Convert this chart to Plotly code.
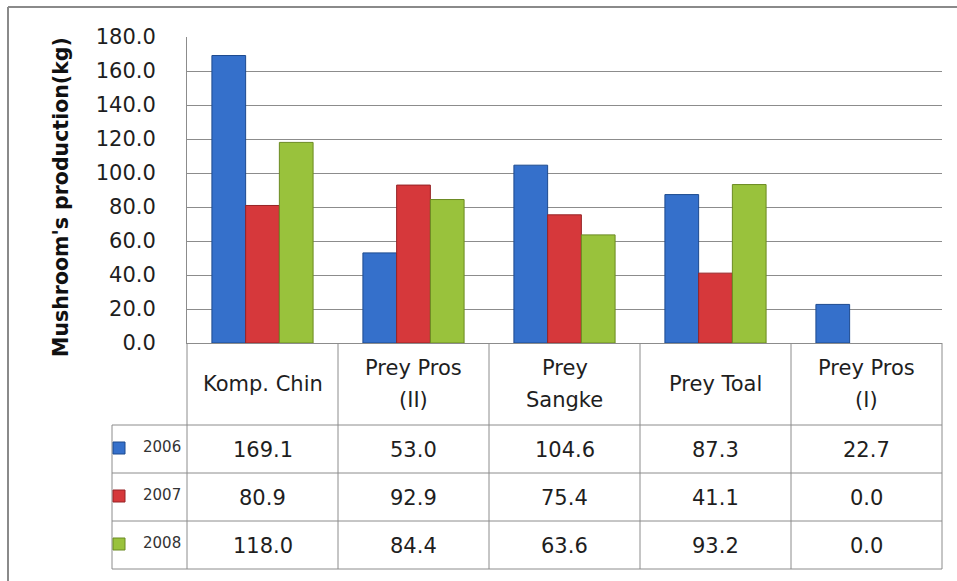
import plotly.graph_objects as go

# Mushroom production per village (kg), with the values repeated in a data table
categories = ["Komp. Chin", "Prey Pros (II)", "Prey Sangke", "Prey Toal", "Prey Pros (I)"]
header_lines = [["Komp. Chin"], ["Prey Pros", "(II)"], ["Prey", "Sangke"],
                ["Prey Toal"], ["Prey Pros", "(I)"]]
years = ["2006", "2007", "2008"]
prod_2006 = [169.1, 53.0, 104.6, 87.3, 22.7]
prod_2007 = [80.9, 92.9, 75.4, 41.1, 0.0]
prod_2008 = [118.0, 84.4, 63.6, 93.2, 0.0]
y_tick_values = [0, 20, 40, 60, 80, 100, 120, 140, 160, 180]

series = [prod_2006, prod_2007, prod_2008]
fill_colors = ["#3570cb", "#d6383b", "#99c23c"]
edge_colors = ["#1d4a8f", "#962326", "#6b8a22"]

W, H = 957, 581


def fx(px):
    return px / W


def fy(py):
    return 1 - py / H


# plot area in pixels
PL, PR, PT, PB = 187, 942, 37, 343
# data-table rows (header + three year rows) and legend column
ROWS = [343, 425, 473, 521, 569]
LEG_L = 112
LINE_GAP = 32  # spacing of two-line header labels

TXT_FONT = "DejaVu Sans, Verdana, sans-serif"
TXT_COLOR = "#1e1e1e"
GRID = "#8c8c8c"

fig = go.Figure()
for name, vals, fc, ec in zip(years, series, fill_colors, edge_colors):
    fig.add_trace(go.Bar(
        x=categories, y=vals, name=name,
        marker=dict(color=fc, line=dict(color=ec, width=[0 if v == 0 else 1 for v in vals])),
        showlegend=False,
    ))

shapes = []
annotations = []

# horizontal table rules
for yv in ROWS[1:]:
    shapes.append(dict(type="line", xref="paper", yref="paper",
                       x0=fx(LEG_L), x1=fx(PR), y0=fy(yv), y1=fy(yv),
                       line=dict(color=GRID, width=1)))
# vertical column rules (category columns)
n = len(categories)
for k in range(n + 1):
    xv = PL + k * (PR - PL) / n
    shapes.append(dict(type="line", xref="paper", yref="paper",
                       x0=fx(xv), x1=fx(xv), y0=fy(ROWS[0]), y1=fy(ROWS[-1]),
                       line=dict(color=GRID, width=1)))
# left edge of the legend column
shapes.append(dict(type="line", xref="paper", yref="paper",
                   x0=fx(LEG_L), x1=fx(LEG_L), y0=fy(ROWS[1]), y1=fy(ROWS[-1]),
                   line=dict(color=GRID, width=1)))

# chart frame (top and left edges)
shapes.append(dict(type="line", xref="paper", yref="paper",
                   x0=fx(8), x1=1, y0=fy(7), y1=fy(7),
                   line=dict(color="#8a8a8a", width=2)))
shapes.append(dict(type="line", xref="paper", yref="paper",
                   x0=fx(8), x1=fx(8), y0=fy(7), y1=0,
                   line=dict(color="#8a8a8a", width=2)))

# header cells: category names (one or two lines each)
head_mid = (ROWS[0] + ROWS[1]) / 2
for i, lines in enumerate(header_lines):
    top = head_mid - (len(lines) - 1) * LINE_GAP / 2
    for j, txt in enumerate(lines):
        annotations.append(dict(x=i, xref="x", y=fy(top + j * LINE_GAP), yref="paper",
                                text=txt, showarrow=False, xanchor="center", yanchor="middle",
                                font=dict(family=TXT_FONT, size=21, color=TXT_COLOR)))

# year rows: legend key, year label and the values
for r, (name, vals, fc, ec) in enumerate(zip(years, series, fill_colors, edge_colors)):
    yc = (ROWS[r + 1] + ROWS[r + 2]) / 2
    shapes.append(dict(type="rect", xref="paper", yref="paper",
                       x0=fx(113), x1=fx(125), y0=fy(yc + 5), y1=fy(yc - 7),
                       fillcolor=fc, line=dict(color=ec, width=1)))
    annotations.append(dict(x=fx(141), xref="paper", y=fy(yc - 2), yref="paper",
                            text=name, showarrow=False, xanchor="left", yanchor="middle",
                            font=dict(family=TXT_FONT, size=15, color="#333333")))
    for i, v in enumerate(vals):
        annotations.append(dict(x=i, xref="x", y=fy(yc + 1), yref="paper",
                                text=f"{v:.1f}", showarrow=False,
                                xanchor="center", yanchor="middle",
                                font=dict(family=TXT_FONT, size=21, color=TXT_COLOR)))

# vertical axis title
annotations.append(dict(x=fx(61), xref="paper", y=fy(197), yref="paper",
                        text="<b>Mushroom's production(kg)</b>", textangle=-90,
                        showarrow=False, xanchor="center", yanchor="middle",
                        font=dict(family=TXT_FONT, size=20.5, color="#111111")))

fig.update_layout(
    width=W, height=H,
    margin=dict(l=0, r=0, t=0, b=0, autoexpand=False),
    paper_bgcolor="white", plot_bgcolor="white",
    barmode="group", bargap=0.33, bargroupgap=0,
    xaxis=dict(domain=[fx(PL), fx(PR)], type="category", range=[-0.5, 4.5],
               showticklabels=False, ticks="", showgrid=False, automargin=False,
               showline=True, linecolor=GRID, linewidth=1, zeroline=False),
    yaxis=dict(domain=[fy(PB), fy(PT)], range=[0, 180], tickvals=y_tick_values,
               tickformat=".1f", ticks="", ticklabelstandoff=26, automargin=False,
               showgrid=True, gridcolor=GRID, gridwidth=1,
               showline=True, linecolor=GRID, linewidth=1, zeroline=False,
               tickfont=dict(family=TXT_FONT, size=21, color=TXT_COLOR)),
    shapes=shapes,
    annotations=annotations,
)

fig.write_html("out.html")
